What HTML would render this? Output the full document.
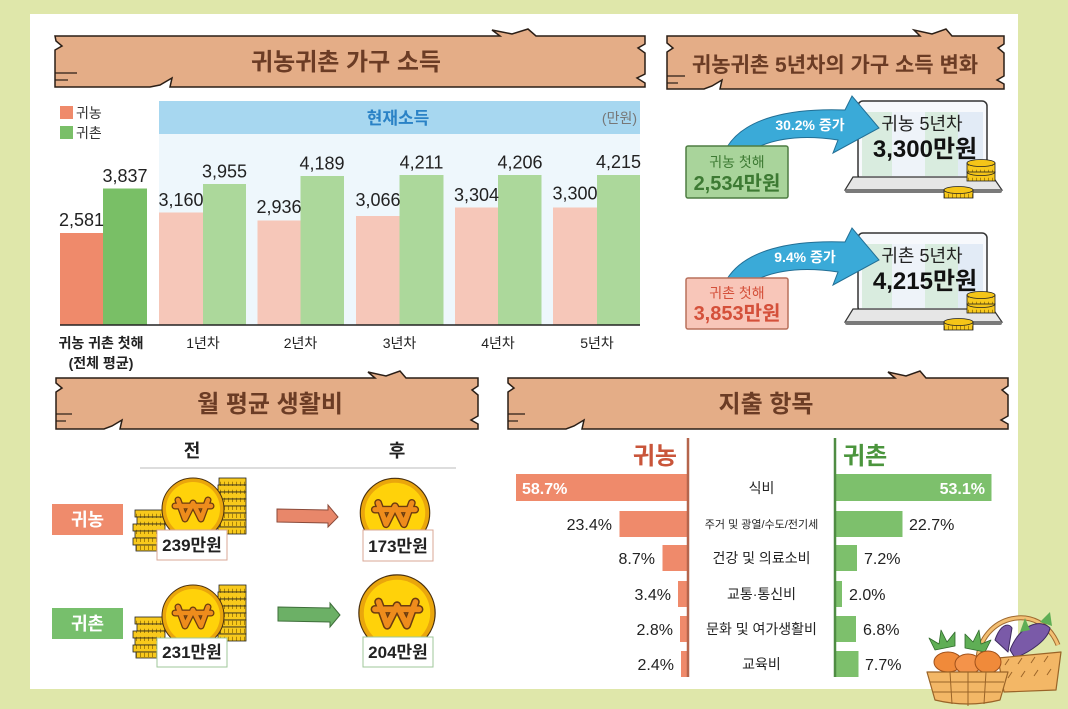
<!DOCTYPE html>
<html><head><meta charset="utf-8"><style>
html,body{margin:0;padding:0;background:#dfe7aa;}
svg{display:block;}
text{font-family:"Liberation Sans","Noto Sans CJK KR",sans-serif;}
</style></head><body>
<svg width="1068" height="709" viewBox="0 0 1068 709" xmlns="http://www.w3.org/2000/svg">
<defs>
<pattern id="cp" width="4" height="8" patternUnits="userSpaceOnUse"><rect width="4" height="8" fill="#f8c91c"/><line x1="0.5" y1="1.8" x2="0.5" y2="6" stroke="#8a6500" stroke-width="0.7"/></pattern>
</defs>
<rect x="0" y="0" width="1068" height="709" fill="#dfe7aa"/>
<rect x="30" y="14" width="988" height="675" fill="#ffffff"/>

<!-- Banner 1 -->
<path d="M55,36 L500,36 L492,30 L512,34 L528,29 L536,36 L645,36 L645,44 L638,48 L645,53 L645,74 L637,78 L645,83 L645,87 L170,87 L172,78 L160,85 L150,87 L55,87 L55,50 L62,46 L56,41 Z" fill="#e4ad87" stroke="#2a1e16" stroke-width="1.5"/>
<line x1="55" y1="73" x2="77" y2="73" stroke="#2a1e16" stroke-width="1.2"/><line x1="55" y1="80" x2="68" y2="80" stroke="#2a1e16" stroke-width="1.2"/>
<text x="346" y="70" font-size="24" font-weight="bold" fill="#6b3c25" text-anchor="middle">귀농귀촌 가구 소득</text>

<!-- Chart 1 -->
<rect x="60" y="106" width="13" height="13" fill="#ef8a6b"/>
<text x="76" y="118" font-size="14" fill="#333">귀농</text>
<rect x="60" y="126" width="13" height="13" fill="#7abf68"/>
<text x="76" y="138" font-size="14" fill="#333">귀촌</text>
<rect x="159" y="101" width="481" height="33" fill="#a7d7f0"/>
<rect x="159" y="134" width="481" height="191" fill="#eef7fc"/>
<text x="398" y="124" font-size="17" font-weight="bold" fill="#2a82c6" text-anchor="middle">현재소득</text>
<text x="637" y="123" font-size="14" fill="#777" text-anchor="end">(만원)</text>

<rect x="60" y="233" width="43" height="92" fill="#ef8a6b"/>
<rect x="103" y="188.5" width="44" height="136.5" fill="#79bf66"/>
<rect x="159" y="212.5" width="44" height="112.5" fill="#f6c7b9"/>
<rect x="203" y="184" width="43" height="141" fill="#acd89b"/>
<rect x="257.5" y="220.5" width="43" height="104.5" fill="#f6c7b9"/>
<rect x="300.5" y="176" width="43.5" height="149" fill="#acd89b"/>
<rect x="356" y="216" width="43.5" height="109" fill="#f6c7b9"/>
<rect x="399.5" y="175" width="44" height="150" fill="#acd89b"/>
<rect x="455" y="207.5" width="43" height="117.5" fill="#f6c7b9"/>
<rect x="498" y="175" width="43.5" height="150" fill="#acd89b"/>
<rect x="553" y="207.5" width="44" height="117.5" fill="#f6c7b9"/>
<rect x="597" y="175" width="43" height="150" fill="#acd89b"/>
<line x1="60" y1="325" x2="640" y2="325" stroke="#222" stroke-width="1.5"/>

<g font-size="18" fill="#222" text-anchor="middle">
<text x="81.5" y="226">2,581</text><text x="125" y="182">3,837</text>
<text x="181" y="206">3,160</text><text x="224.5" y="177.5">3,955</text>
<text x="279" y="213">2,936</text><text x="322" y="169.5">4,189</text>
<text x="378" y="206">3,066</text><text x="421.5" y="168.5">4,211</text>
<text x="476.5" y="201">3,304</text><text x="520" y="168.5">4,206</text>
<text x="575" y="199.5">3,300</text><text x="618.5" y="168">4,215</text>
</g>
<g font-size="14" fill="#222" text-anchor="middle">
<text x="101" y="348" font-weight="bold">귀농 귀촌 첫해</text>
<text x="101" y="368" font-weight="bold">(전체 평균)</text>
<text x="203" y="348">1년차</text><text x="300.5" y="348">2년차</text><text x="399.5" y="348">3년차</text><text x="498" y="348">4년차</text><text x="597" y="348">5년차</text>
</g>

<!-- Banner 2 -->
<path d="M667,36 L920,36 L914,30 L932,34 L946,29 L952,36 L1004,36 L1004,44 L998,48 L1004,53 L1004,76 L997,80 L1004,84 L1004,89 L720,89 L722,80 L712,86 L704,89 L667,89 L667,52 L673,48 L667,43 Z" fill="#e4ad87" stroke="#2a1e16" stroke-width="1.5"/>
<line x1="667" y1="76" x2="685" y2="76" stroke="#2a1e16" stroke-width="1.2"/><line x1="667" y1="83" x2="678" y2="83" stroke="#2a1e16" stroke-width="1.2"/>
<text x="835" y="72" font-size="21" font-weight="bold" fill="#6b3c25" text-anchor="middle">귀농귀촌 5년차의 가구 소득 변화</text>

<!-- Laptop block 1 & 2 -->
<g id="lap1">
<rect x="858" y="101" width="129" height="79" rx="5" fill="#f7f9fc" stroke="#333" stroke-width="1.5"/>
<rect x="862" y="112" width="30" height="64" fill="#d9ecdf"/>
<rect x="892" y="112" width="33" height="64" fill="#eef3f9"/>
<rect x="925" y="112" width="33" height="64" fill="#d9ecdf"/>
<rect x="958" y="112" width="25" height="64" fill="#e2ebf6"/>
<polygon points="853,177 993,177 1002,190 845,190" fill="#e6e6e6" stroke="#333" stroke-width="1.2"/>
<rect x="845" y="189" width="157" height="4" rx="2" fill="#7a7a7a"/>
<rect x="967" y="172" width="28" height="9" fill="url(#cp)" stroke="#222" stroke-width="0.8"/>
<ellipse cx="981" cy="172" rx="14" ry="3.5" fill="#f5c518" stroke="#222" stroke-width="0.8"/>
<rect x="967" y="163" width="28" height="9" fill="url(#cp)" stroke="#222" stroke-width="0.8"/>
<ellipse cx="981" cy="163" rx="14" ry="3.5" fill="#f5c518" stroke="#222" stroke-width="0.8"/>
<rect x="944" y="190" width="29" height="8" fill="url(#cp)" stroke="#222" stroke-width="0.8"/>
<ellipse cx="958.5" cy="190" rx="14.5" ry="3.5" fill="#f5c518" stroke="#222" stroke-width="0.8"/>
</g>
<text x="922" y="130" font-size="18" fill="#222" text-anchor="middle">귀농 5년차</text>
<text x="925" y="157" font-size="24" font-weight="bold" fill="#111" text-anchor="middle">3,300만원</text>
<path d="M727,147 C745,118 790,108 845,110 L852,96 L879,128 L833,153 L838,140 C805,135 778,138 758,147 Z" fill="#3aaad8" stroke="#226f95" stroke-width="1"/>
<text x="810" y="130" font-size="14" font-weight="bold" fill="#fff" text-anchor="middle">30.2% 증가</text>
<rect x="686" y="146" width="102" height="52" rx="2" fill="#a9d49b" stroke="#4e7d42" stroke-width="1.5"/>
<text x="737" y="167" font-size="14" fill="#3d7a33" text-anchor="middle">귀농 첫해</text>
<text x="737" y="190" font-size="20" font-weight="bold" fill="#3d7a33" text-anchor="middle">2,534만원</text>

<use href="#lap1" transform="translate(0,132)"/>
<text x="922" y="262" font-size="18" fill="#222" text-anchor="middle">귀촌 5년차</text>
<text x="925" y="289" font-size="24" font-weight="bold" fill="#111" text-anchor="middle">4,215만원</text>
<path d="M727,279 C745,250 790,240 845,242 L852,228 L879,260 L833,285 L838,272 C805,267 778,270 758,279 Z" fill="#3aaad8" stroke="#226f95" stroke-width="1"/>
<text x="805" y="262" font-size="14" font-weight="bold" fill="#fff" text-anchor="middle">9.4% 증가</text>
<rect x="686" y="278" width="102" height="51" rx="2" fill="#f8c6b9" stroke="#b8705c" stroke-width="1.5"/>
<text x="737" y="298" font-size="14" fill="#d4503a" text-anchor="middle">귀촌 첫해</text>
<text x="737" y="320" font-size="20" font-weight="bold" fill="#d4503a" text-anchor="middle">3,853만원</text>

<!-- Banner 3 -->
<path d="M56,378 L375,378 L368,372 L386,376 L400,371 L406,378 L478,378 L478,386 L472,390 L478,395 L478,416 L471,420 L478,424 L478,429 L120,429 L122,420 L112,426 L104,429 L56,429 L56,392 L62,388 L56,383 Z" fill="#e4ad87" stroke="#2a1e16" stroke-width="1.5"/>
<line x1="56" y1="414" x2="72" y2="414" stroke="#2a1e16" stroke-width="1.2"/><line x1="56" y1="421" x2="66" y2="421" stroke="#2a1e16" stroke-width="1.2"/>
<text x="270" y="412" font-size="24" font-weight="bold" fill="#6b3c25" text-anchor="middle">월 평균 생활비</text>

<text x="192" y="457" font-size="18" font-weight="bold" fill="#222" text-anchor="middle">전</text>
<text x="397" y="457" font-size="18" font-weight="bold" fill="#222" text-anchor="middle">후</text>
<line x1="140" y1="468" x2="456" y2="468" stroke="#bbb" stroke-width="1"/>

<rect x="52" y="504" width="71" height="31" fill="#ef8b6c"/>
<text x="87.5" y="526" font-size="18" font-weight="bold" fill="#fff" text-anchor="middle">귀농</text>
<rect x="52" y="608" width="71" height="31" fill="#77bf6c"/>
<text x="87.5" y="630" font-size="18" font-weight="bold" fill="#fff" text-anchor="middle">귀촌</text>

<g id="stack1" stroke="#222" stroke-width="0.8" fill="url(#cp)">
<rect x="219" y="478" width="27" height="7"/><rect x="218" y="485" width="28" height="7"/>
<rect x="220" y="492" width="26" height="7"/><rect x="218" y="499" width="28" height="7"/>
<rect x="219" y="506" width="27" height="7"/><rect x="217" y="513" width="29" height="7"/>
<rect x="220" y="520" width="26" height="7"/><rect x="218" y="527" width="28" height="7"/>
<rect x="135" y="510" width="30" height="7"/><rect x="137" y="517" width="28" height="7"/>
<rect x="133" y="524" width="32" height="7"/><rect x="135" y="531" width="30" height="7"/>
<rect x="133" y="538" width="32" height="7"/><rect x="136" y="545" width="29" height="6"/>
</g>
<g id="coinbig">
<circle cx="193" cy="509" r="31" fill="#eaa60c" stroke="#4a3010" stroke-width="1"/>
<circle cx="193" cy="509" r="27" fill="#ffd20a"/>
<g fill="none" stroke-linejoin="round" stroke-linecap="round">
<path d="M178,500 L185,519 L193,503 L201,519 L208,500 M175,506 L211,506" stroke="#6b3b10" stroke-width="7"/>
<path d="M178,500 L185,519 L193,503 L201,519 L208,500 M175,506 L211,506" stroke="#ee8c1c" stroke-width="4.5"/>
</g>
</g>
<rect x="157" y="530" width="70" height="30" fill="#fff" stroke="#d9a796" stroke-width="1"/>
<text x="192" y="551" font-size="17" font-weight="bold" fill="#222" text-anchor="middle">239만원</text>

<use href="#stack1" transform="translate(0,107)"/>
<use href="#coinbig" transform="translate(0,107)"/>
<rect x="157" y="638" width="70" height="29" fill="#fff" stroke="#9fc79a" stroke-width="1"/>
<text x="192" y="658" font-size="17" font-weight="bold" fill="#222" text-anchor="middle">231만원</text>

<polygon points="277,509 328,510 328,505 338,517 328,527 328,523 277,522" fill="#e8876a" stroke="#8a4a3a" stroke-width="1"/>
<polygon points="278,607 330,608 330,603 340,615 330,627 330,622 278,621" fill="#6cb066" stroke="#3e6e3a" stroke-width="1"/>

<g transform="translate(395,513) scale(1.12) translate(-193,-509)"><use href="#coinbig"/></g>
<rect x="363" y="530" width="70" height="31" fill="#fff" stroke="#d9a796" stroke-width="1"/>
<text x="398" y="552" font-size="17" font-weight="bold" fill="#222" text-anchor="middle">173만원</text>
<g transform="translate(397,613) scale(1.23) translate(-193,-509)"><use href="#coinbig"/></g>
<rect x="363" y="637" width="70" height="30" fill="#fff" stroke="#9fc79a" stroke-width="1"/>
<text x="398" y="658" font-size="17" font-weight="bold" fill="#222" text-anchor="middle">204만원</text>

<!-- Banner 4 -->
<path d="M508,378 L895,378 L888,372 L906,376 L920,371 L926,378 L1008,378 L1008,386 L1002,390 L1008,395 L1008,416 L1001,420 L1008,424 L1008,429 L582,429 L584,420 L574,426 L566,429 L508,429 L508,392 L514,388 L508,383 Z" fill="#e4ad87" stroke="#2a1e16" stroke-width="1.5"/>
<line x1="508" y1="414" x2="525" y2="414" stroke="#2a1e16" stroke-width="1.2"/><line x1="508" y1="421" x2="518" y2="421" stroke="#2a1e16" stroke-width="1.2"/>
<text x="766" y="412" font-size="24" font-weight="bold" fill="#6b3c25" text-anchor="middle">지출 항목</text>

<text x="677" y="464" font-size="24" font-weight="bold" fill="#c9553a" text-anchor="end">귀농</text>
<text x="843" y="464" font-size="24" font-weight="bold" fill="#4b953d">귀촌</text>

<g fill="#ef8a6b">
<rect x="516" y="474" width="172" height="27"/>
<rect x="619.5" y="511" width="68.5" height="26"/>
<rect x="662.5" y="545" width="25.5" height="26"/>
<rect x="678" y="581" width="10" height="26"/>
<rect x="680" y="616" width="8" height="26"/>
<rect x="681" y="651" width="7" height="26"/>
</g>
<g fill="#7dc06c">
<rect x="836" y="474" width="155.5" height="27"/>
<rect x="836" y="511" width="66.5" height="26"/>
<rect x="836" y="545" width="21" height="26"/>
<rect x="836" y="581" width="6" height="26"/>
<rect x="836" y="616" width="20" height="26"/>
<rect x="836" y="651" width="22.5" height="26"/>
</g>
<line x1="688" y1="438" x2="688" y2="677" stroke="#b5654c" stroke-width="2.5"/>
<line x1="835" y1="438" x2="835" y2="677" stroke="#4f8c43" stroke-width="2.5"/>

<text x="522" y="494" font-size="16" font-weight="bold" fill="#fff">58.7%</text>
<text x="985" y="494" font-size="16" font-weight="bold" fill="#fff" text-anchor="end">53.1%</text>
<g font-size="16" fill="#222" text-anchor="end">
<text x="612" y="530">23.4%</text><text x="655" y="564">8.7%</text><text x="671" y="600">3.4%</text><text x="673" y="635">2.8%</text><text x="674" y="670">2.4%</text>
</g>
<g font-size="16" fill="#222">
<text x="909" y="530">22.7%</text><text x="864" y="564">7.2%</text><text x="849" y="600">2.0%</text><text x="863" y="635">6.8%</text><text x="865" y="670">7.7%</text>
</g>
<g font-size="14" fill="#222" text-anchor="middle">
<text x="761.5" y="493">식비</text>
<text x="761.5" y="528" font-size="11">주거 및 광열/수도/전기세</text>
<text x="761.5" y="563">건강 및 의료소비</text>
<text x="761.5" y="599">교통·통신비</text>
<text x="761.5" y="634">문화 및 여가생활비</text>
<text x="761.5" y="669">교육비</text>
</g>

<!-- Basket -->
<g stroke-linejoin="round">
<path d="M978,660 C980,615 1040,600 1058,645" fill="none" stroke="#a06a30" stroke-width="5"/>
<path d="M978,660 C980,615 1040,600 1058,645" fill="none" stroke="#f3bf72" stroke-width="3"/>
<path d="M995,640 C1000,625 1008,622 1012,628 L1008,652 Z" fill="#7a5aa8" stroke="#3e2a60" stroke-width="1"/>
<path d="M1010,650 C1020,625 1040,618 1050,628 C1048,640 1030,652 1015,658 Z" fill="#7a5aa8" stroke="#3e2a60" stroke-width="1"/>
<path d="M1020,632 L1025,618 L1030,630 Z M1040,622 L1050,612 L1052,626 Z" fill="#5fae55"/>
<path d="M998,658 L1061,652 L1056,690 L1004,692 Z" fill="#f3b766" stroke="#9a6428" stroke-width="1.2"/>
<path d="M1005,665 l4,-6 M1018,664 l4,-6 M1031,663 l4,-6 M1044,662 l4,-6 M1008,678 l4,-6 M1021,677 l4,-6 M1034,676 l4,-6 M1047,675 l4,-6" stroke="#9a6428" stroke-width="1"/>
<path d="M935,650 l-6,-12 l10,6 l2,-14 l6,12 l8,-10 l0,14 Z M965,648 l0,-14 l8,8 l6,-12 l2,14 l10,-4 l-6,12 Z" fill="#5fae55" stroke="#2f6a2a" stroke-width="0.8"/>
<ellipse cx="948" cy="662" rx="14" ry="10" fill="#f08a3a" stroke="#a0501a" stroke-width="1"/>
<ellipse cx="968" cy="664" rx="13" ry="10" fill="#f4934a" stroke="#a0501a" stroke-width="1"/>
<ellipse cx="988" cy="662" rx="13" ry="11" fill="#f08a3a" stroke="#a0501a" stroke-width="1"/>
<path d="M927,672 L1008,672 L1000,700 Q968,708 935,700 Z" fill="#f3b766" stroke="#9a6428" stroke-width="1.2"/>
<path d="M930,682 L1004,682 M933,692 L1001,692 M950,672 L952,704 M968,672 L968,706 M986,672 L984,704" stroke="#9a6428" stroke-width="1"/>
</g>
</svg>
</body></html>
